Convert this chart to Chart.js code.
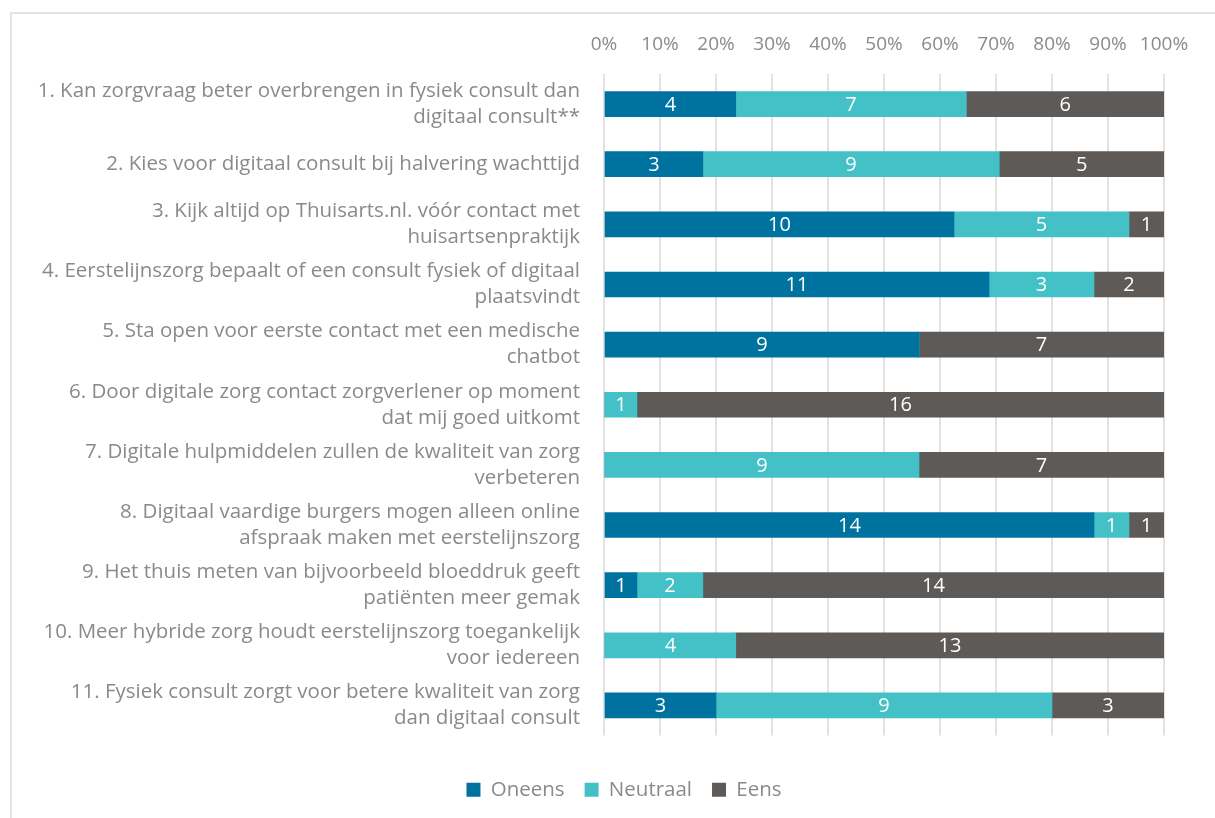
<!DOCTYPE html>
<html>
<head>
<meta charset="utf-8">
<script src="https://cdn.jsdelivr.net/npm/chart.js@4.4.0/dist/chart.umd.min.js"></script>
<style>
  html, body { margin: 0; padding: 0; background: #fff; }
  #wrap { position: relative; width: 1215px; height: 818px; overflow: hidden; }
  #frame { position: absolute; left: 10px; top: 12px; width: 1300px; height: 900px;
           border-left: 2px solid #e3e3e3; border-top: 2px solid #e3e3e3; }
  canvas { position: absolute; left: 0; top: 0; }
</style>
</head>
<body>
<div id="wrap">
  <div id="frame"></div>
  <canvas id="grafiek" width="1215" height="818"></canvas>
</div>
<script>
var stellingen = [
    ['1. Kan zorgvraag beter overbrengen in fysiek consult dan', 'digitaal consult**'],
    '2. Kies voor digitaal consult bij halvering wachttijd',
    ['3. Kijk altijd op Thuisarts.nl. vóór contact met', 'huisartsenpraktijk'],
    ['4. Eerstelijnszorg bepaalt of een consult fysiek of digitaal', 'plaatsvindt'],
    ['5. Sta open voor eerste contact met een medische', 'chatbot'],
    ['6. Door digitale zorg contact zorgverlener op moment', 'dat mij goed uitkomt'],
    ['7. Digitale hulpmiddelen zullen de kwaliteit van zorg', 'verbeteren'],
    ['8. Digitaal vaardige burgers mogen alleen online', 'afspraak maken met eerstelijnszorg'],
    ['9. Het thuis meten van bijvoorbeeld bloeddruk geeft', 'patiënten meer gemak'],
    ['10. Meer hybride zorg houdt eerstelijnszorg toegankelijk', 'voor iedereen'],
    ['11. Fysiek consult zorgt voor betere kwaliteit van zorg', 'dan digitaal consult']
];
var oneens   = [4, 3, 10, 11, 9, 0, 0, 14, 1, 0, 3];
var neutraal = [7, 9, 5, 3, 0, 1, 9, 1, 2, 4, 9];
var eens     = [6, 5, 1, 2, 7, 16, 7, 1, 14, 13, 3];
var tickLabels = ['0%', '10%', '20%', '30%', '40%', '50%', '60%', '70%', '80%', '90%', '100%'];

var grijs = '#8c8a88';
var lettertype = "'Open Sans', 'Noto Sans', sans-serif";

// aantallen omzetten naar percentages per stelling
function procent(reeks) {
    return reeks.map(function (v, i) {
        var totaal = oneens[i] + neutraal[i] + eens[i];
        return v / totaal * 100;
    });
}
var aantallen = [oneens, neutraal, eens];

var labelPlugin = {
    id: 'segmentLabels',
    afterDatasetsDraw: function (chart) {
        var ctx = chart.ctx;
        ctx.save();
        ctx.fillStyle = '#ffffff';
        ctx.font = '20px ' + lettertype;
        ctx.textAlign = 'center';
        ctx.textBaseline = 'middle';
        chart.data.datasets.forEach(function (ds, d) {
            chart.getDatasetMeta(d).data.forEach(function (bar, i) {
                var n = aantallen[d][i];
                if (!n) return;
                var x = (bar.x + bar.base) / 2;
                ctx.fillText(String(n), x, bar.y + 1);
            });
        });
        ctx.restore();
    }
};

// legenda iets naar rechts, zoals in het origineel
var legendaVerschuiven = {
    id: 'legendaVerschuiven',
    afterLayout: function (chart) {
        chart.legend.left += 32;
        chart.legend.right += 32;
    }
};

var ctx = document.getElementById('grafiek').getContext('2d');
var grafiek = new Chart(ctx, {
    type: 'bar',
    data: {
        labels: stellingen,
        datasets: [
            { label: 'Oneens', data: procent(oneens), backgroundColor: '#0072a0' },
            { label: 'Neutraal', data: procent(neutraal), backgroundColor: '#43c1c6' },
            { label: 'Eens', data: procent(eens), backgroundColor: '#5e5a57' }
        ]
    },
    options: {
        indexAxis: 'y',
        responsive: false,
        animation: false,
        barThickness: 25,
        layout: { padding: { top: 30, bottom: 8, left: 20, right: 51 } },
        scales: {
            x: {
                position: 'top',
                stacked: true,
                min: 0,
                max: 100,
                border: { display: false },
                grid: { color: '#e2e2e2', lineWidth: 2, drawTicks: false },
                ticks: {
                    stepSize: 10,
                    color: grijs,
                    font: { family: lettertype, size: 19 },
                    padding: 18,
                    callback: function (v, i) { return tickLabels[i]; }
                },
                afterFit: function (scale) { scale.height = 44; }
            },
            y: {
                stacked: true,
                border: { display: false },
                grid: { display: false },
                ticks: {
                    color: grijs,
                    font: { family: lettertype, size: 20.5, lineHeight: 1.27 },
                    padding: 16
                },
                afterFit: function (scale) { scale.width = 584; }
            }
        },
        plugins: {
            tooltip: { enabled: false },
            legend: {
                position: 'bottom',
                title: { display: true, text: '', padding: { top: 12, bottom: 0 }, font: { size: 10 } },
                labels: {
                    color: grijs,
                    font: { family: lettertype, size: 20.5 },
                    boxWidth: 14,
                    boxHeight: 14,
                    padding: 20
                }
            }
        }
    },
    plugins: [labelPlugin, legendaVerschuiven]
});
</script>
</body>
</html>
